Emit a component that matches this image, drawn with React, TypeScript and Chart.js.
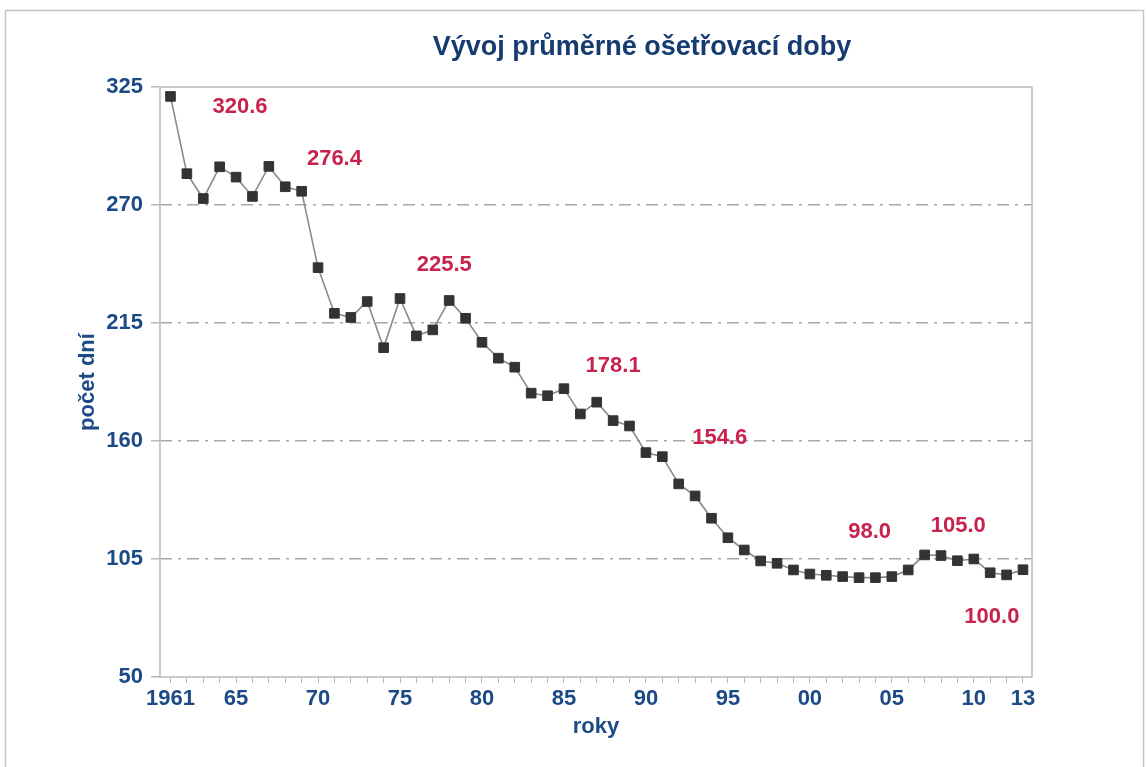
import React, { useEffect, useRef } from "react";
import { Chart, registerables } from "chart.js";

Chart.register(...registerables);

const TITLE = "Vývoj průměrné ošetřovací doby";
const Y_TITLE = "počet dní";
const X_TITLE = "roky";

const YEARS = [
  1961, 1962, 1963, 1964, 1965, 1966, 1967, 1968, 1969, 1970,
  1971, 1972, 1973, 1974, 1975, 1976, 1977, 1978, 1979, 1980,
  1981, 1982, 1983, 1984, 1985, 1986, 1987, 1988, 1989, 1990,
  1991, 1992, 1993, 1994, 1995, 1996, 1997, 1998, 1999, 2000,
  2001, 2002, 2003, 2004, 2005, 2006, 2007, 2008, 2009, 2010,
  2011, 2012, 2013,
];

const VALUES = [
  320.6, 284.6, 273.0, 287.8, 283.0, 274.0, 288.0, 278.5, 276.4, 240.8,
  219.5, 217.6, 225.0, 203.5, 226.4, 209.0, 211.8, 225.5, 217.2, 206.0,
  198.6, 194.4, 182.3, 181.1, 184.4, 172.6, 178.1, 169.5, 167.0, 154.6,
  152.7, 140.0, 134.4, 124.0, 114.9, 109.2, 104.1, 103.0, 99.9, 98.0,
  97.4, 96.8, 96.3, 96.3, 96.8, 99.9, 106.9, 106.6, 104.2, 105.0,
  98.6, 97.6, 100.0,
];

// x tick labels shown (others blank)
const X_LABELS: Record<number, string> = {
  1961: "1961", 1965: "65", 1970: "70", 1975: "75", 1980: "80", 1985: "85",
  1990: "90", 1995: "95", 2000: "00", 2005: "05", 2010: "10", 2013: "13",
};

const Y_MIN = 50;
const Y_MAX = 325;
const Y_STEP = 55;

// value annotations: text, anchor year, anchor value
const ANN_TEXT = ["320.6", "276.4", "225.5", "178.1", "154.6", "98.0", "105.0", "100.0"];
const ANN_YEAR = [1965.24, 1971.0, 1977.7, 1988.0, 1994.5, 2003.65, 2009.05, 2011.1];
const ANN_VALUE = [315.7, 291.5, 242, 195, 161.4, 117.4, 120.4, 78];

const FONT = "'Liberation Sans', Arial, Helvetica, sans-serif";
const BLUE = "#1b4a86";
const NAVY = "#163b70";
const RED = "#c8224e";

export default function App() {
  const ref = useRef<HTMLCanvasElement | null>(null);

  useEffect(() => {
    document.body.style.margin = "0";
    const canvas = ref.current;
    if (!canvas) return;

    const framePlugin = {
      id: "frame",
      beforeDraw(chart: any) {
        const ctx = chart.ctx;
        ctx.save();
        ctx.fillStyle = "#ffffff";
        ctx.fillRect(0, 0, chart.width, chart.height);
        ctx.strokeStyle = "#c4c4c4";
        ctx.lineWidth = 1.5;
        ctx.strokeRect(5.5, 10.5, 1138, 800);
        ctx.restore();
      },
      beforeDatasetsDraw(chart: any) {
        const { ctx, chartArea } = chart;
        ctx.save();
        ctx.strokeStyle = "#bdbdbd";
        ctx.lineWidth = 1.6;
        ctx.strokeRect(
          chartArea.left,
          chartArea.top,
          chartArea.right - chartArea.left,
          chartArea.bottom - chartArea.top
        );
        ctx.restore();
      },
      afterDraw(chart: any) {
        const { ctx, scales } = chart;
        ctx.save();
        ctx.fillStyle = NAVY;
        ctx.font = `bold 27px ${FONT}`;
        ctx.textAlign = "center";
        ctx.textBaseline = "middle";
        ctx.fillText(TITLE, 642, 48);

        ctx.fillStyle = RED;
        ctx.font = `bold 22px ${FONT}`;
        for (let i = 0; i < ANN_TEXT.length; i++) {
          const x = scales.x.getPixelForValue(ANN_YEAR[i]);
          const y = scales.y.getPixelForValue(ANN_VALUE[i]);
          ctx.fillText(ANN_TEXT[i], x, y);
        }
        ctx.restore();
      },
    };

    const chart = new Chart(canvas, {
      type: "line",
      data: {
        datasets: [
          {
            data: YEARS.map((y, i) => ({ x: y, y: VALUES[i] })),
            borderColor: "#8a8a8a",
            borderWidth: 1.6,
            pointStyle: "rect",
            pointRadius: 6.8,
            pointBackgroundColor: "#333333",
            pointBorderColor: "#333333",
            pointBorderWidth: 1,
            tension: 0,
          },
        ],
      },
      options: {
        animation: false,
        responsive: false,
        layout: { padding: { left: 0, right: 116, top: 87, bottom: 0 } },
        plugins: {
          legend: { display: false },
          tooltip: { enabled: false },
          title: { display: false },
        },
        scales: {
          x: {
            type: "linear",
            min: 1960.36,
            max: 2013.55,
            afterFit(scale: any) {
              scale.height = 90;
            },
            afterBuildTicks(scale: any) {
              scale.ticks = YEARS.map((v) => ({ value: v }));
            },
            border: { display: false },
            grid: {
              drawOnChartArea: false,
              drawTicks: true,
              tickLength: 6,
              tickColor: "#b8b8b8",
            },
            ticks: {
              autoSkip: false,
              maxRotation: 0,
              padding: 3,
              color: BLUE,
              font: { family: FONT, size: 22, weight: "bold" },
              callback: (v: any) => X_LABELS[v as number] ?? "",
            },
            title: {
              display: true,
              text: X_TITLE,
              color: BLUE,
              font: { family: FONT, size: 22, weight: "bold" },
              padding: { top: 0, bottom: 27 },
            },
          },
          y: {
            min: Y_MIN,
            max: Y_MAX,
            afterFit(scale: any) {
              scale.width = 160;
            },
            border: { display: false, dash: [12, 6, 3, 6] },
            grid: {
              drawTicks: true,
              tickLength: 9,
              tickColor: "#b8b8b8",
              color: (ctx: any) =>
                ctx.tick && (ctx.tick.value === Y_MIN || ctx.tick.value === Y_MAX)
                  ? "rgba(0,0,0,0)"
                  : "#a8a8a8",
              lineWidth: 1.5,
            },
            ticks: {
              stepSize: Y_STEP,
              padding: 8,
              color: BLUE,
              font: { family: FONT, size: 22, weight: "bold" },
            },
            title: {
              display: true,
              text: Y_TITLE,
              color: BLUE,
              font: { family: FONT, size: 22, weight: "bold" },
              padding: { top: 75, bottom: 0 },
            },
          },
        },
      } as any,
      plugins: [framePlugin],
    });

    return () => chart.destroy();
  }, []);

  return (
    <div style={{ width: 1148, height: 767 }}>
      <canvas ref={ref} width={1148} height={767} />
    </div>
  );
}
